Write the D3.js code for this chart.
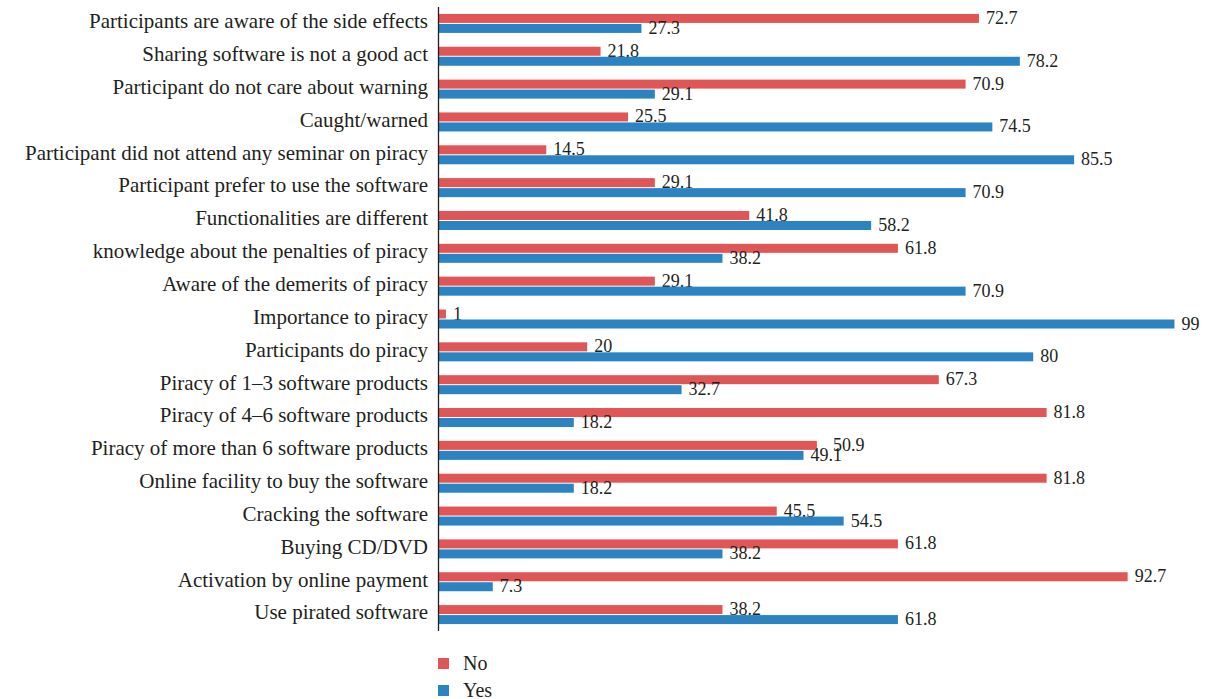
<!DOCTYPE html>
<html>
<head>
<meta charset="utf-8">
<script src="https://cdn.jsdelivr.net/npm/d3@7"></script>
<style>
body { margin: 0; background: #fff; }
text { font-family: "Liberation Serif", "DejaVu Serif", serif; fill: #231f20; }
</style>
</head>
<body>
<script>
var width = 1210,
    height = 699;

var categories = [
  "Participants are aware of the side effects",
  "Sharing software is not a good act",
  "Participant do not care about warning",
  "Caught/warned",
  "Participant did not attend any seminar on piracy",
  "Participant prefer to use the software",
  "Functionalities are different",
  "knowledge about the penalties of piracy",
  "Aware of the demerits of piracy",
  "Importance to piracy",
  "Participants do piracy",
  "Piracy of 1\u20133 software products",
  "Piracy of 4\u20136 software products",
  "Piracy of more than 6 software products",
  "Online facility to buy the software",
  "Cracking the software",
  "Buying CD/DVD",
  "Activation by online payment",
  "Use pirated software"
];
var noValues = [72.7, 21.8, 70.9, 25.5, 14.5, 29.1, 41.8, 61.8, 29.1, 1, 20, 67.3, 81.8, 50.9, 81.8, 45.5, 61.8, 92.7, 38.2];
var yesValues = [27.3, 78.2, 29.1, 74.5, 85.5, 70.9, 58.2, 38.2, 70.9, 99, 80, 32.7, 18.2, 49.1, 18.2, 54.5, 38.2, 7.3, 61.8];
var seriesNames = ["No", "Yes"];
var colors = ["#e05656", "#2b83c1"];

var svg = d3.select("body").append("svg")
    .attr("width", width)
    .attr("height", height);

var x = d3.scaleLinear().domain([0, 100]).range([438.5, 1181.9]);
var y = d3.scaleBand().domain(categories).range([7, 631]);
var barH = 9, gap = 1;

var rows = svg.selectAll(".row").data(categories).enter().append("g")
    .attr("class", "row")
    .attr("transform", function(d) { return "translate(0," + (y(d) + y.bandwidth() / 2) + ")"; });

rows.append("text")
    .attr("x", 428)
    .attr("y", 0)
    .attr("dy", "0.23em")
    .attr("text-anchor", "end")
    .style("font-size", "21px")
    .text(function(d) { return d; });

[noValues, yesValues].forEach(function(vals, s) {
  var top = s === 0 ? -barH - gap / 2 : gap / 2;
  rows.append("rect")
      .attr("x", x(0))
      .attr("y", top)
      .attr("height", barH)
      .attr("width", function(d, i) { return x(vals[i]) - x(0); })
      .attr("fill", colors[s]);
  rows.append("text")
      .attr("x", function(d, i) {
        var px = x(vals[i]) + 7;
        // nudge the upper label when both bars end close together
        if (s === 0 && Math.abs(vals[i] - yesValues[i]) < 3) px = x(Math.max(vals[i], yesValues[i])) + 16;
        return px;
      })
      .attr("y", top + barH + 1)
      .style("font-size", "18px")
      .text(function(d, i) { return vals[i]; });
});

svg.append("line")
    .attr("x1", x(0)).attr("x2", x(0))
    .attr("y1", 7).attr("y2", 631)
    .attr("stroke", "#231f20")
    .attr("stroke-width", 1.3);

var legend = svg.selectAll(".legend").data(seriesNames).enter().append("g")
    .attr("class", "legend")
    .attr("transform", function(d, i) { return "translate(438," + (658 + i * 27) + ")"; });
legend.append("rect")
    .attr("width", 11).attr("height", 11)
    .attr("fill", function(d, i) { return colors[i]; });
legend.append("text")
    .attr("x", 25).attr("y", 12.3)
    .style("font-size", "20px")
    .text(function(d) { return d; });
</script>
</body>
</html>
